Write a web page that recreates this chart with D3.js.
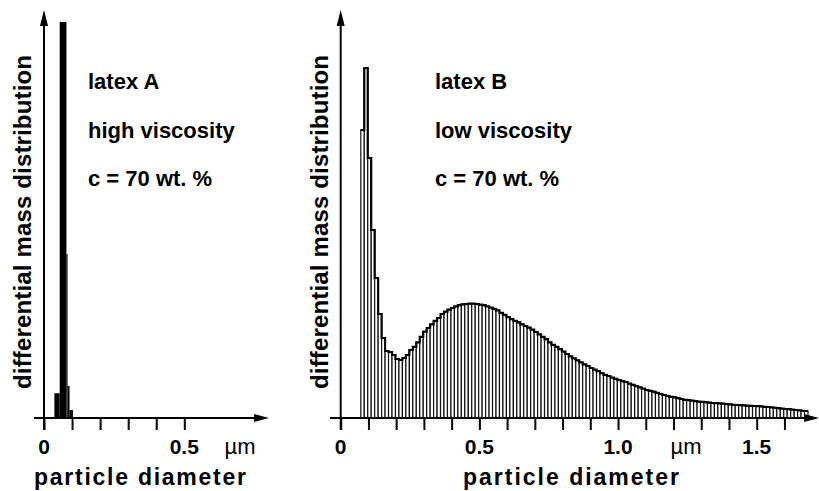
<!DOCTYPE html>
<html>
<head>
<meta charset="utf-8">
<script src="https://cdn.jsdelivr.net/npm/d3@7"></script>
<style>
body { margin: 0; background: #fff; }
svg { display: block; }
text { font-family: 'Liberation Sans', Arial, sans-serif; font-weight: bold; fill: #000; }
</style>
</head>
<body>
<script>
// latex A: bin edges (µm) and heights (relative units, 0-100)
const aEdges = [0.037, 0.056, 0.080, 0.084, 0.091, 0.103];
const aValues = [6.2, 99, 41, 8, 2];

// latex B: equal bins starting at bStart, width bWidth (µm)
const bStart = 0.0725, bWidth = 0.0125;
const bValues = [
	72, 87.5, 65, 47, 35, 26, 20, 16.75, 16.5, 15.75,
	14.75, 14.5, 15, 15.75, 17, 17.8, 18.9, 20.3, 21.6, 22.5,
	23.4, 24.3, 25, 26, 26.6, 27.1, 27.5, 27.9, 28.2, 28.4,
	28.5, 28.6, 28.6, 28.5, 28.35, 28.2, 27.9, 27.6, 27.3, 26.9,
	26.3, 25.8, 25.2, 24.7, 24.3, 23.9, 23.4, 23, 22.6, 22.1,
	21.5, 20.9, 20.3, 19.7, 18.9, 18.3, 17.8, 17.2, 16.6, 16,
	15.4, 14.9, 14.4, 13.9, 13.4, 13, 12.5, 12.1, 11.7, 11.2,
	10.8, 10.5, 10.1, 9.8, 9.5, 9.2, 9, 8.6, 8.3, 7.95,
	7.65, 7.35, 7, 6.8, 6.6, 6.3, 6, 5.75, 5.5, 5.3,
	5.15, 4.95, 4.75, 4.55, 4.45, 4.35, 4.2, 4.1, 4.05, 3.95,
	3.85, 3.75, 3.7, 3.65, 3.6, 3.5, 3.4, 3.3, 3.25, 3.2,
	3.15, 3.1, 3.05, 3, 2.95, 2.9, 2.8, 2.75, 2.65, 2.55,
	2.45, 2.35, 2.25, 2.2, 2.1, 2.0, 1.9, 1.8, 1.75
];

const ticksA = [0, 0.1, 0.2, 0.3, 0.4, 0.5];
const ticksB = [0, 0.1, 0.2, 0.3, 0.4, 0.5, 0.6, 0.7, 0.8, 0.9, 1.0, 1.1, 1.2, 1.3, 1.4, 1.5, 1.6];
const labelsA = [[0, "0"], [0.5, "0.5"]];
const labelsB = [[0, "0"], [0.5, "0.5"], [1.0, "1.0"], [1.5, "1.5"]];

const width = 819, height = 491;
const base = 418;

const svg = d3.select("body").append("svg")
	.attr("width", width)
	.attr("height", height);

const y = d3.scaleLinear().domain([0, 100]).range([base, 18]);
const xA = d3.scaleLinear().domain([0, 0.5]).range([44, 184.3]);
const xB = d3.scaleLinear().domain([0, 1.5]).range([340.7, 756.7]);

// ---- latex A bars (solid black)
const aBins = aValues.map((v, i) => ({x0: aEdges[i], x1: aEdges[i+1], v: v}));
svg.append("g").selectAll("rect").data(aBins).join("rect")
	.attr("x", d => xA(d.x0))
	.attr("y", d => y(d.v))
	.attr("width", d => xA(d.x1) - xA(d.x0))
	.attr("height", d => base - y(d.v))
	.attr("fill", "#000");

// ---- latex B bars (open, hatched look)
const bBins = bValues.map((v, i) => ({x0: bStart + i*bWidth, x1: bStart + (i+1)*bWidth, v: v}));
svg.append("g").selectAll("rect").data(bBins).join("rect")
	.attr("x", d => xB(d.x0))
	.attr("y", d => y(d.v))
	.attr("width", d => xB(d.x1) - xB(d.x0))
	.attr("height", d => base - y(d.v))
	.attr("fill", "#fff")
	.attr("stroke", "#111")
	.attr("stroke-width", 1.2);

// outline on top
const outPts = bBins.map(d => [d.x0, d.v]);
outPts.push([bBins[bBins.length-1].x1, bBins[bBins.length-1].v]);
const step = d3.line().x(d => xB(d[0])).y(d => y(d[1])).curve(d3.curveStepAfter);
svg.append("path")
	.attr("d", step(outPts))
	.attr("fill", "none")
	.attr("stroke", "#000")
	.attr("stroke-width", 2.2);

// ---- axes
function axes(x, ticks, labels, x0, xTip, unitX, titleX, titleW) {
	const g = svg.append("g");
	const ox = x(0);
	// x axis with ticks
	g.append("g")
		.attr("transform", `translate(0,${base})`)
		.call(d3.axisBottom(x).tickValues(ticks).tickSize(12).tickFormat(""))
		.call(s => s.select(".domain").remove())
		.call(s => s.selectAll(".tick line").attr("stroke", "#000").attr("stroke-width", 2));
	g.append("line")
		.attr("x1", x0).attr("x2", xTip - 10)
		.attr("y1", base).attr("y2", base)
		.attr("stroke", "#000").attr("stroke-width", 2);
	g.append("path")
		.attr("d", `M${xTip},${base} L${xTip-15},${base-4} L${xTip-15},${base+4} Z`)
		.attr("fill", "#000");
	// y axis
	g.append("line")
		.attr("x1", ox).attr("x2", ox)
		.attr("y1", base + 12).attr("y2", 20)
		.attr("stroke", "#000").attr("stroke-width", 2);
	g.append("path")
		.attr("d", `M${ox},10 L${ox-4},26 L${ox+4},26 Z`)
		.attr("fill", "#000");
	// tick labels
	g.selectAll("text.tl").data(labels).join("text")
		.attr("class", "tl")
		.attr("x", d => x(d[0]))
		.attr("y", 454)
		.attr("text-anchor", "middle")
		.style("font-size", "21px")
		.text(d => d[1]);
	g.append("text")
		.attr("x", unitX).attr("y", 454)
		.attr("text-anchor", "middle")
		.style("font-size", "22px")
		.style("font-weight", "normal")
		.text("µm");
	g.append("text")
		.attr("x", titleX).attr("y", 485)
		.attr("text-anchor", "middle")
		.attr("textLength", titleW)
		.attr("lengthAdjust", "spacing")
		.style("font-size", "23px")
		.text("particle diameter");
	g.append("text")
		.attr("transform", `translate(${ox - 13},222) rotate(-90)`)
		.attr("text-anchor", "middle")
		.attr("textLength", 334)
		.attr("lengthAdjust", "spacing")
		.style("font-size", "24px")
		.text("differential mass distribution");
}

axes(xA, ticksA, labelsA, 34, 269, 240, 140, 212);
axes(xB, ticksB, labelsB, 330, 819, 686, 571, 216);

// annotations
function notes(x, lines) {
	svg.append("g").selectAll("text").data(lines).join("text")
		.attr("x", x)
		.attr("y", (d, i) => 89 + i*48.5)
		.style("font-size", "22px")
		.text(d => d);
}
notes(88, ["latex A", "high viscosity", "c = 70 wt. %"]);
notes(435, ["latex B", "low viscosity", "c = 70 wt. %"]);
</script>
</body>
</html>
